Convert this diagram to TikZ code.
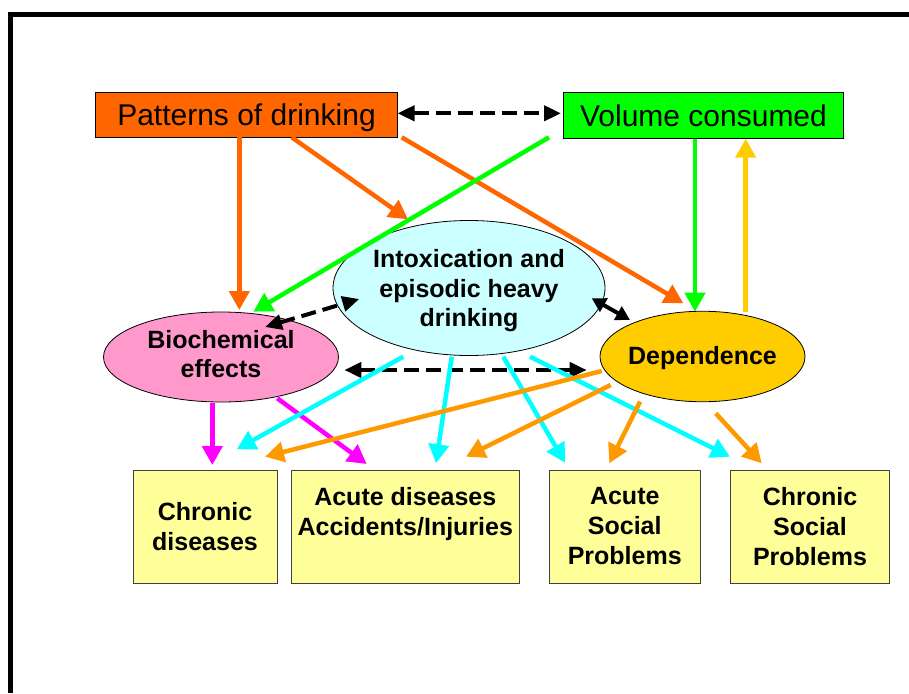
\documentclass[tikz,border=0pt]{standalone}
\usepackage{fontspec}
\setmainfont{Liberation Sans}
\usetikzlibrary{arrows.meta,shapes.geometric,calc}
\definecolor{cOrange}{HTML}{FF6600}
\definecolor{cGreen}{HTML}{00FF00}
\definecolor{cCyanFill}{HTML}{CCFFFF}
\definecolor{cPink}{HTML}{FF99CC}
\definecolor{cGold}{HTML}{FFCC00}
\definecolor{cYellowBox}{HTML}{FFFF99}
\definecolor{cCyan}{HTML}{00FFFF}
\definecolor{cMagenta}{HTML}{FF00FF}
\definecolor{cOrangeB}{HTML}{FF9900}
\begin{document}
\begin{tikzpicture}[x=1pt,y=-1pt,
  topbox/.style={draw=black, line width=0.8pt, inner sep=0pt, outer sep=0pt, text height=21pt, text depth=0pt, font=\fontsize{30}{36}\selectfont},
  oval/.style={ellipse, draw=black, line width=0.8pt, inner sep=0pt, outer sep=0pt, align=center, font=\fontsize{25}{29.5}\selectfont\bfseries},
  outbox/.style={draw=black!75, line width=1pt, fill=cYellowBox, minimum height=113pt, inner sep=0pt, outer sep=0pt, align=center, font=\fontsize{25}{30}\selectfont\bfseries},
  arr/.style={line width=4.5pt, -{Triangle[length=19pt,width=20pt]}},
  dashdbl/.style={line width=4pt, dash pattern=on 15pt off 7pt, {Triangle[length=17pt,width=15pt]}-{Triangle[length=17pt,width=15pt]}},
  soliddbl/.style={line width=4pt, {Triangle[length=14pt,width=15pt]}-{Triangle[length=14pt,width=15pt]}},
  frameline/.style={line width=5pt}
]
\useasboundingbox (0,0) rectangle (909,693);
% frame
\coordinate (fbl) at (10.5,693);
\coordinate (ftl) at (10.5,14.5);
\coordinate (ftr) at (909,14.5);
\draw[frameline] (fbl) -- (ftl) -- (ftr);

% nodes
\node[topbox, fill=cOrange, minimum width=302pt, minimum height=45pt] (pat) at (246.5,115) {Patterns of drinking};
\node[topbox, fill=cGreen, minimum width=280.5pt, minimum height=46.5pt] (vol) at (703.5,115.5) {Volume consumed};
\node[oval, fill=cCyanFill, minimum width=272pt, minimum height=135pt] (intox) at (469,288) {\rule{0pt}{24pt}Intoxication and\\episodic heavy\\drinking};
\node[oval, fill=cPink, minimum width=235pt, minimum height=90pt] (bio) at (221,357) {Biochemical\\effects\rule[-6pt]{0pt}{6pt}};
\node[oval, fill=cGold, minimum width=205pt, minimum height=90.5pt, inner xsep=-3pt] (dep) at (702.5,356.5) {\rule{0pt}{22pt}Dependence};
\node[outbox, minimum width=144pt] (chr) at (205,526.5) {Chronic\\diseases};
\node[outbox, minimum width=227.4pt] (acd) at (405.3,526.5) {Acute diseases\\Accidents/Injuries\\\rule{0pt}{0pt}};
\node[outbox, minimum width=151.5pt] (acs) at (624.75,526.5) {Acute\\Social\\Problems};
\node[outbox, minimum width=159pt] (chs) at (810,526.5) {Chronic\\Social\\Problems};

% top arrows
\draw[arr, cOrange] ($(pat.center)+(-7.2,22.3)$) -- ($(bio.center)+(18.3,-47)$);
\draw[arr, cOrange] ($(pat.center)+(45.2,22.3)$) -- ($(intox.center)+(-61,-68.7)$);
\draw[arr, cOrange] ($(pat.center)+(155.2,22.3)$) -- ($(dep.center)+(-19.2,-53.2)$);
\draw[arr, cGreen] ($(vol.center)+(-154.5,21.8)$) -- ($(bio.center)+(32.3,-45.3)$);
\draw[arr, cGreen] ($(vol.center)+(-8.5,23.2)$) -- ($(dep.center)+(-7.5,-44.8)$);
\draw[arr, cGold] ($(dep.center)+(43.2,-44.8)$) -- ($(vol.center)+(42.2,23.2)$);
\draw[dashdbl] ($(pat.center)+(151,-1.7)$) -- ($(vol.center)+(-142.5,-2.2)$);

% middle links
\draw[dashdbl] ($(bio.center)+(44,-30)$) -- ($(intox.center)+(-109.7,11)$);
\draw[soliddbl] ($(intox.center)+(122.7,10.3)$) -- ($(dep.center)+(-72.5,-36.5)$);
\draw[dashdbl] ($(bio.center)+(123.3,13)$) -- ($(dep.center)+(-115.8,13.5)$);

% outcome arrows
\draw[arr, cMagenta] ($(bio.center)+(-8.7,46.3)$) -- ($(chr.center)+(7.3,-61.5)$);
\draw[arr, cMagenta] ($(bio.center)+(56.3,41.3)$) -- ($(acd.center)+(-38.6,-62.5)$);
\draw[arr, cCyan] ($(intox.center)+(-65.7,68.7)$) -- ($(chr.center)+(31.7,-77.2)$);
\draw[arr, cCyan] ($(intox.center)+(-17.3,68.7)$) -- ($(acd.center)+(30.7,-63.2)$);
\draw[arr, cCyan] ($(intox.center)+(34.3,68.7)$) -- ($(acs.center)+(-59.75,-63.8)$);
\draw[arr, cCyan] ($(intox.center)+(61,68.7)$) -- ($(chs.center)+(-80,-69.8)$);
\draw[arr, cOrangeB] ($(dep.center)+(-100.8,14.5)$) -- ($(chr.center)+(60,-69.8)$);
\draw[arr, cOrangeB] ($(dep.center)+(-91.8,28.5)$) -- ($(acd.center)+(60.7,-69.8)$);
\draw[arr, cOrangeB] ($(dep.center)+(-62.5,45.2)$) -- ($(acs.center)+(-15.45,-63.2)$);
\draw[arr, cOrangeB] ($(dep.center)+(13.2,56.8)$) -- ($(chs.center)+(-48.3,-63.2)$);
\end{tikzpicture}
\end{document}
